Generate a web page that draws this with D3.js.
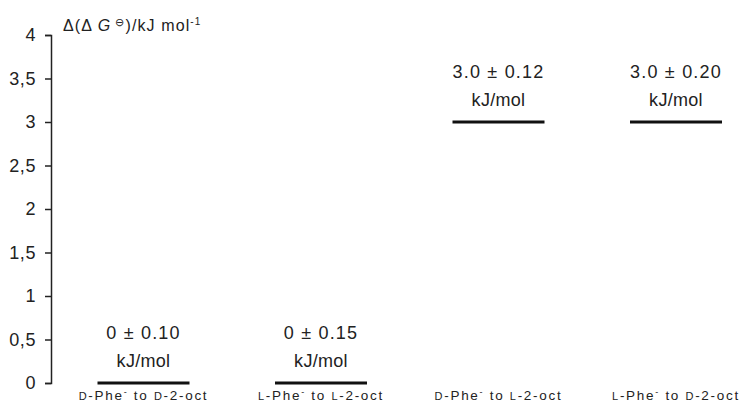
<!DOCTYPE html>
<html><head><meta charset="utf-8">
<script src="https://cdn.jsdelivr.net/npm/d3@7"></script>
<style>
body{margin:0;background:#fff;}
text{font-family:"Liberation Sans",Arial,sans-serif;fill:#222;}
</style></head>
<body><svg id="c" width="743" height="403"></svg>
<script>
// Data
const categories = ["D-D", "L-L", "D-L", "L-D"];
const firstIso = ["D", "L", "D", "L"];
const secondIso = ["D", "L", "L", "D"];
const values = [0, 0, 3.0, 3.0];
const errors = ["0.10", "0.15", "0.12", "0.20"];
const valueLabels = ["0", "0", "3.0", "3.0"];
const yTicks = [0, 0.5, 1, 1.5, 2, 2.5, 3, 3.5, 4];

const svg = d3.select("#c");
const y = d3.scaleLinear().domain([0, 4]).range([383, 35]);
const x = d3.scalePoint().domain(categories).range([143.5, 676]);
const half = 46;

// axis
const axis = d3.axisLeft(y).tickValues(yTicks)
  .tickFormat(d => String(d).replace(".", ","))
  .tickSize(6).tickPadding(9);
const g = svg.append("g").attr("transform", "translate(51,0)").call(axis);
g.selectAll("path,line").attr("stroke", "#222").attr("stroke-width", 1.5);
g.selectAll("text").attr("font-size", 18).attr("letter-spacing", 0.6)
  .style("font-family", "Liberation Sans, Arial, sans-serif").attr("fill", "#222");

// axis title
const t = svg.append("text").attr("x", 63).attr("y", 31).attr("font-size", 16).attr("letter-spacing", 1.1);
t.append("tspan").text("Δ(Δ ");
t.append("tspan").attr("font-style", "italic").text("G");
t.append("tspan").attr("font-size", 11).attr("dy", -5).text(" ⊖");
t.append("tspan").attr("dy", 5).text(")/kJ mol");
t.append("tspan").attr("font-size", 10).attr("dy", -6).text("-1");

// bars (horizontal level lines)
svg.selectAll("line.bar").data(categories).enter().append("line")
  .attr("class", "bar")
  .attr("x1", d => x(d) - half).attr("x2", d => x(d) + half)
  .attr("y1", (d, i) => y(values[i])).attr("y2", (d, i) => y(values[i]))
  .attr("stroke", "#111").attr("stroke-width", 3.2);

// value labels
svg.selectAll("text.val").data(categories).enter().append("text")
  .attr("class", "val").attr("text-anchor", "middle")
  .attr("x", d => x(d)).attr("y", (d, i) => y(values[i]) - 44)
  .attr("font-size", 18).attr("letter-spacing", 1.2)
  .text((d, i) => valueLabels[i] + " ± " + errors[i]);
svg.selectAll("text.unit").data(categories).enter().append("text")
  .attr("class", "unit").attr("text-anchor", "middle")
  .attr("x", d => x(d)).attr("y", (d, i) => y(values[i]) - 16)
  .attr("font-size", 18).attr("letter-spacing", 0.3)
  .text("kJ/mol");

// category labels
const cl = svg.selectAll("text.cat").data(categories).enter().append("text")
  .attr("class", "cat").attr("text-anchor", "middle")
  .attr("x", d => x(d)).attr("y", 400)
  .attr("font-size", 13.5).attr("letter-spacing", 1.7);
cl.append("tspan").attr("font-size", 11).text((d, i) => firstIso[i]);
cl.append("tspan").text("-Phe");
cl.append("tspan").attr("font-size", 9).attr("dy", -5).text("-");
cl.append("tspan").attr("dy", 5).text(" to ");
cl.append("tspan").attr("font-size", 11).text((d, i) => secondIso[i]);
cl.append("tspan").text("-2-oct");
</script></body></html>
